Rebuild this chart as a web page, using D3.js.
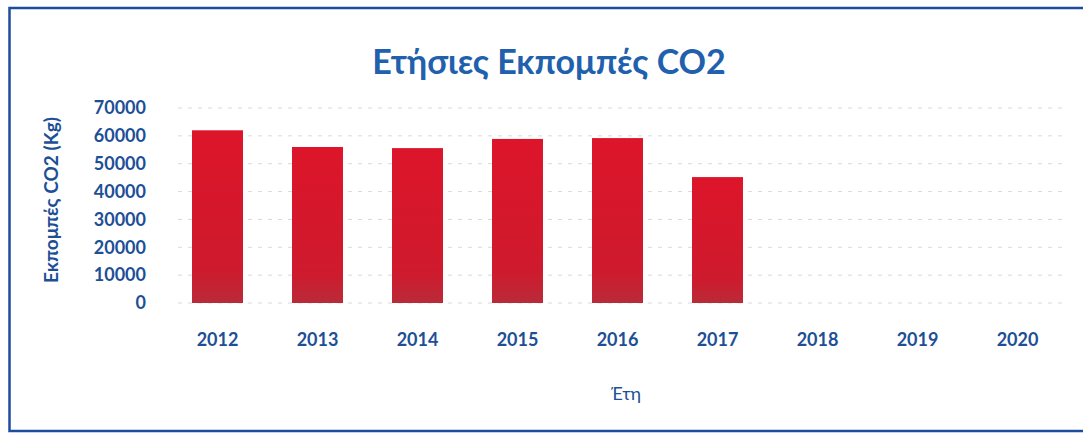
<!DOCTYPE html>
<html>
<head>
<meta charset="utf-8">
<script src="https://cdn.jsdelivr.net/npm/d3@7"></script>
<style>
	body { margin: 0; background: #fff; }
	svg { display: block; }
</style>
</head>
<body>
<script>
var years = ['2012', '2013', '2014', '2015', '2016', '2017', '2018', '2019', '2020'];
var emissions = [62000, 56000, 55600, 58900, 59200, 45200, 0, 0, 0];
var yTicks = [0, 10000, 20000, 30000, 40000, 50000, 60000, 70000];

var width = 1083,
	height = 434;

var font = 'Lato, "Open Sans", sans-serif';
var blue = '#1d4f96';

var svg = d3.select('body').append('svg')
	.attr('width', width)
	.attr('height', height);

// bar gradient (slightly darker at the bottom like the scan)
var grad = svg.append('defs').append('linearGradient')
	.attr('id', 'barGrad')
	.attr('x1', 0).attr('y1', 0).attr('x2', 0).attr('y2', 1);
grad.append('stop').attr('offset', '0%').attr('stop-color', '#dd152a');
grad.append('stop').attr('offset', '80%').attr('stop-color', '#cf1a2d');
grad.append('stop').attr('offset', '100%').attr('stop-color', '#b92b38');

// frame
svg.append('rect')
	.attr('x', 9.5).attr('y', 8)
	.attr('width', 1090).attr('height', 423)
	.attr('fill', 'none')
	.attr('stroke', '#1f4d9e')
	.attr('stroke-width', 2.5);

var x = d3.scaleBand()
	.domain(years)
	.range([167.5, 1067.5])
	.paddingInner(0.49)
	.paddingOuter(0.245);

var y = d3.scaleLinear()
	.domain([0, 70000])
	.range([303, 108]);

// gridlines
svg.append('g')
	.selectAll('line')
	.data(yTicks)
	.enter()
	.append('line')
	.attr('x1', 178).attr('x2', 1065)
	.attr('y1', function(d){ return y(d); })
	.attr('y2', function(d){ return y(d); })
	.attr('stroke', '#d6d9df')
	.attr('stroke-width', 1)
	.attr('stroke-dasharray', '4,6');

// bars
svg.append('g')
	.selectAll('rect')
	.data(years.map(function(yr, i){ return {year: yr, value: emissions[i]}; }))
	.enter()
	.append('rect')
	.attr('x', function(d){ return x(d.year); })
	.attr('width', x.bandwidth())
	.attr('y', function(d){ return y(d.value); })
	.attr('height', function(d){ return y(0) - y(d.value); })
	.attr('fill', 'url(#barGrad)');

// y axis
var yAxis = svg.append('g')
	.attr('transform', 'translate(146,0)')
	.call(d3.axisLeft(y).tickValues(yTicks).tickSize(0).tickPadding(0).tickFormat(d3.format('d')));
yAxis.select('.domain').remove();
yAxis.selectAll('text')
	.attr('fill', blue)
	.style('font-family', font)
	.style('font-size', '18px')
	.style('font-weight', 'bold');

// x axis
var xAxis = svg.append('g')
	.attr('transform', 'translate(0,333)')
	.call(d3.axisBottom(x).tickSize(0).tickPadding(0));
xAxis.select('.domain').remove();
xAxis.selectAll('text')
	.attr('fill', blue)
	.style('font-family', font)
	.style('font-size', '18px')
	.style('font-weight', 'bold');

// title
svg.append('text')
	.attr('x', 549).attr('y', 74)
	.attr('text-anchor', 'middle')
	.attr('fill', '#2160ad')
	.style('font-family', font)
	.style('font-size', '34px')
	.style('font-weight', 'bold')
	.text('Ετήσιες Εκπομπές CO2');

// axis titles
svg.append('text')
	.attr('transform', 'translate(58,200) rotate(-90)')
	.attr('text-anchor', 'middle')
	.attr('fill', blue)
	.style('font-family', font)
	.style('font-size', '19px')
	.style('font-weight', 'bold')
	.text('Εκπομπές CO2 (Kg)');

svg.append('text')
	.attr('x', 626).attr('y', 400)
	.attr('text-anchor', 'middle')
	.attr('fill', blue)
	.style('font-family', font)
	.style('font-size', '18px')
	.text('Έτη');
</script>
</body>
</html>
